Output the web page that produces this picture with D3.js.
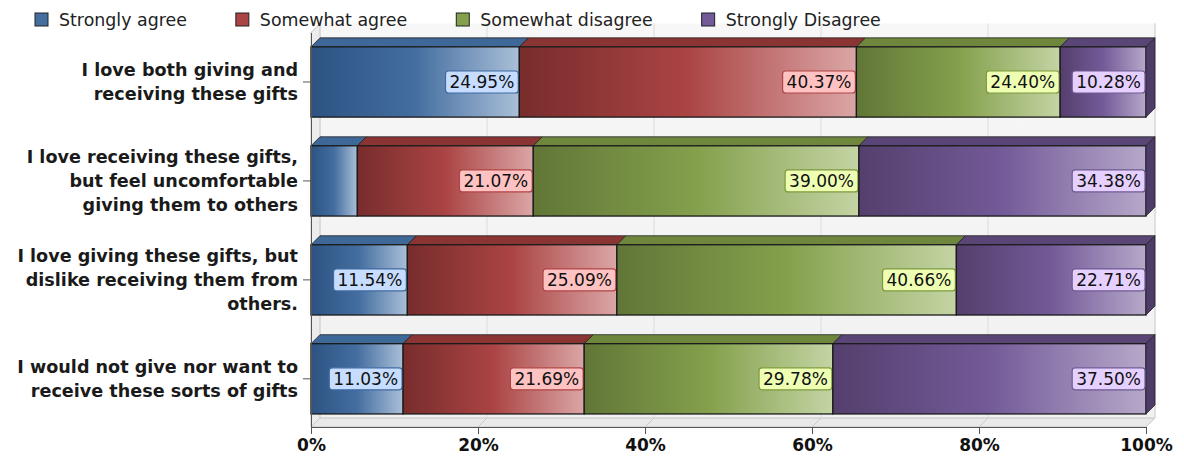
<!DOCTYPE html>
<html>
<head>
<meta charset="utf-8">
<script src="https://cdn.jsdelivr.net/npm/d3@7"></script>
<style>
body { margin: 0; background: #fff; }
text { font-family: "DejaVu Sans", Verdana, sans-serif; }
</style>
</head>
<body>
<div id="chart"></div>
<script>
// survey answers, percent of respondents
var categories = [
    ["I love both giving and", "receiving these gifts"],
    ["I love receiving these gifts,", "but feel uncomfortable", "giving them to others"],
    ["I love giving these gifts, but", "dislike receiving them from", "others."],
    ["I would not give nor want to", "receive these sorts of gifts"]
];
var seriesNames = ["Strongly agree", "Somewhat agree", "Somewhat disagree", "Strongly Disagree"];
var stronglyAgree    = [24.95, 5.55, 11.54, 11.03];
var somewhatAgree    = [40.37, 21.07, 25.09, 21.69];
var somewhatDisagree = [24.40, 39.00, 40.66, 29.78];
var stronglyDisagree = [10.28, 34.38, 22.71, 37.50];
var tickValues = [0, 20, 40, 60, 80, 100];

// colours per series: gradient stops, top face, label box
var gradStops = [
    ["#2c5382", "#446ea0", "#aabfd8"],
    ["#782c2c", "#ab4444", "#dba6a6"],
    ["#617637", "#84a04c", "#c4d4a4"],
    ["#543f6d", "#735a98", "#b6a8ca"]
];
var topColors = ["#3e6898", "#8a3434", "#6f873c", "#5a4676"];
var boxFill = ["#c6ddff", "#ffc2c2", "#eeffb4", "#e6d0ff"];
var boxStroke = ["#3f6ba0", "#b04444", "#7c9a3c", "#6e5a94"];

var W = 1184, H = 456, depth = 9;
var front = {left: 311, right: 1146, top: 32.5, bottom: 427};

var svg = d3.select("#chart").append("svg")
    .attr("width", W)
    .attr("height", H);

var x = d3.scaleLinear().domain([0, 100]).range([front.left, front.right]);
var y = d3.scaleBand()
    .domain(d3.range(categories.length))
    .range([front.top, 428.3])
    .paddingInner(0.29)
    .paddingOuter(0.145);

var rows = categories.map(function(c, i) {
    return {0: stronglyAgree[i], 1: somewhatAgree[i], 2: somewhatDisagree[i], 3: stronglyDisagree[i]};
});
var stacked = d3.stack().keys([0, 1, 2, 3])(rows);

var defs = svg.append("defs");
gradStops.forEach(function(s, k) {
    var g = defs.append("linearGradient").attr("id", "grad" + k)
        .attr("x1", 0).attr("x2", 1).attr("y1", 0).attr("y2", 0);
    g.append("stop").attr("offset", "0%").attr("stop-color", s[0]);
    g.append("stop").attr("offset", "50%").attr("stop-color", s[1]);
    g.append("stop").attr("offset", "100%").attr("stop-color", s[2]);
});
var wallGrad = defs.append("linearGradient").attr("id", "wall")
    .attr("x1", 0).attr("x2", 0).attr("y1", 0).attr("y2", 1);
wallGrad.append("stop").attr("offset", "0%").attr("stop-color", "#f7f7f7");
wallGrad.append("stop").attr("offset", "100%").attr("stop-color", "#f1f1f1");

// back wall, left wall, floor
svg.append("rect")
    .attr("x", front.left + depth)
    .attr("y", front.top - depth)
    .attr("width", front.right - front.left)
    .attr("height", front.bottom - front.top)
    .attr("fill", "url(#wall)");

svg.append("line")
    .attr("x1", front.right + depth).attr("x2", front.right + depth)
    .attr("y1", front.top - depth).attr("y2", front.bottom - depth)
    .attr("stroke", "#d0d0d0");

svg.append("polygon")
    .attr("points", [[front.left, front.top], [front.left + depth, front.top - depth],
        [front.left + depth, front.bottom - depth], [front.left, front.bottom]].join(" "))
    .attr("fill", "#ececec")
    .attr("stroke", "#c4c4c4");

svg.append("polygon")
    .attr("points", [[front.left, front.bottom], [front.left + depth, front.bottom - depth],
        [front.right + depth, front.bottom - depth], [front.right, front.bottom]].join(" "))
    .attr("fill", "#e9e9e9")
    .attr("stroke", "#c4c4c4");

// grid on back wall and floor
svg.selectAll(".grid").data(tickValues).enter().append("line")
    .attr("class", "grid")
    .attr("x1", function(d) { return x(d) + depth; })
    .attr("x2", function(d) { return x(d) + depth; })
    .attr("y1", front.top - depth)
    .attr("y2", front.bottom - depth)
    .attr("stroke", "#dcdcdc");

svg.selectAll(".floorGrid").data(tickValues).enter().append("line")
    .attr("class", "floorGrid")
    .attr("x1", function(d) { return x(d); })
    .attr("x2", function(d) { return x(d) + depth; })
    .attr("y1", front.bottom)
    .attr("y2", front.bottom - depth)
    .attr("stroke", "#c8c8c8");

// bars
var bw = y.bandwidth();
var layers = svg.selectAll(".layer").data(stacked).enter().append("g")
    .attr("class", "layer");

layers.each(function(layer, k) {
    var g = d3.select(this);
    layer.forEach(function(d, i) {
        var x0 = x(d[0]), x1 = x(d[1]), yt = y(i);
        g.append("polygon")
            .attr("points", [[x0, yt], [x0 + depth, yt - depth], [x1 + depth, yt - depth], [x1, yt]].join(" "))
            .attr("fill", topColors[k])
            .attr("stroke", "#222")
            .attr("stroke-width", 0.8);
        g.append("rect")
            .attr("x", x0).attr("y", yt)
            .attr("width", x1 - x0).attr("height", bw)
            .attr("fill", "url(#grad" + k + ")")
            .attr("stroke", "#1a1a1a")
            .attr("stroke-width", 1.3);
        if (k === stacked.length - 1) {
            g.append("polygon")
                .attr("points", [[x1, yt], [x1 + depth, yt - depth], [x1 + depth, yt + bw - depth], [x1, yt + bw]].join(" "))
                .attr("fill", "#4e3c68")
                .attr("stroke", "#222")
                .attr("stroke-width", 0.8);
        }
    });
});

// value labels
layers.each(function(layer, k) {
    var g = d3.select(this);
    layer.forEach(function(d, i) {
        var x1 = x(d[1]), cy = y(i) + bw / 2;
        var lab = g.append("g");
        var t = lab.append("text")
            .attr("x", x1 - 5)
            .attr("y", cy)
            .attr("dy", "0.36em")
            .attr("text-anchor", "end")
            .attr("font-size", "17px")
            .attr("fill", "#111")
            .text(d3.format(".2f")(d[1] - d[0]) + "%");
        var bb = t.node().getBBox();
        if (bb.width + 10 > x1 - x(d[0])) { lab.remove(); return; }
        lab.insert("rect", "text")
            .attr("x", bb.x - 4)
            .attr("y", cy - 11)
            .attr("width", bb.width + 8)
            .attr("height", 22)
            .attr("rx", 3)
            .attr("fill", boxFill[k])
            .attr("stroke", boxStroke[k])
            .attr("stroke-width", 1.2);
    });
});

// axes
var xAxis = svg.append("g")
    .attr("transform", "translate(0," + front.bottom + ")")
    .call(d3.axisBottom(x).tickValues(tickValues)
        .tickFormat(function(d) { return d + "%"; })
        .tickSize(7).tickSizeOuter(0).tickPadding(5));
xAxis.select(".domain").attr("stroke", "#555");
xAxis.selectAll(".tick line").attr("stroke", "#555");
xAxis.selectAll(".tick text")
    .attr("font-family", "DejaVu Sans")
    .attr("font-size", "17px")
    .attr("font-weight", "bold")
    .attr("fill", "#111");

var yAxis = svg.append("g")
    .attr("transform", "translate(" + front.left + ",0)")
    .call(d3.axisLeft(y).tickSize(8).tickSizeOuter(0).tickFormat(""));
yAxis.select(".domain").attr("stroke", "#555");
yAxis.selectAll(".tick line").attr("stroke", "#555");

svg.selectAll(".catLabel").data(categories).enter().append("text")
    .attr("class", "catLabel")
    .attr("text-anchor", "end")
    .attr("font-size", "17.6px")
    .attr("font-weight", "bold")
    .attr("fill", "#1a1a1a")
    .each(function(lines, i) {
        var cy = y(i) + bw / 2;
        d3.select(this).selectAll("tspan").data(lines).enter().append("tspan")
            .attr("x", 298)
            .attr("y", function(l, j) { return cy + (j - (lines.length - 1) / 2) * 24; })
            .attr("dy", "0.36em")
            .text(function(l) { return l; });
    });

// legend
var lx = 35;
seriesNames.forEach(function(name, k) {
    svg.append("rect")
        .attr("x", lx).attr("y", 13)
        .attr("width", 13).attr("height", 13)
        .attr("fill", gradStops[k][1])
        .attr("stroke", "#222");
    var t = svg.append("text")
        .attr("x", lx + 24).attr("y", 26)
        .attr("font-size", "17.4px")
        .attr("fill", "#222")
        .text(name);
    lx = lx + 24 + t.node().getComputedTextLength() + 49;
});
</script>
</body>
</html>
